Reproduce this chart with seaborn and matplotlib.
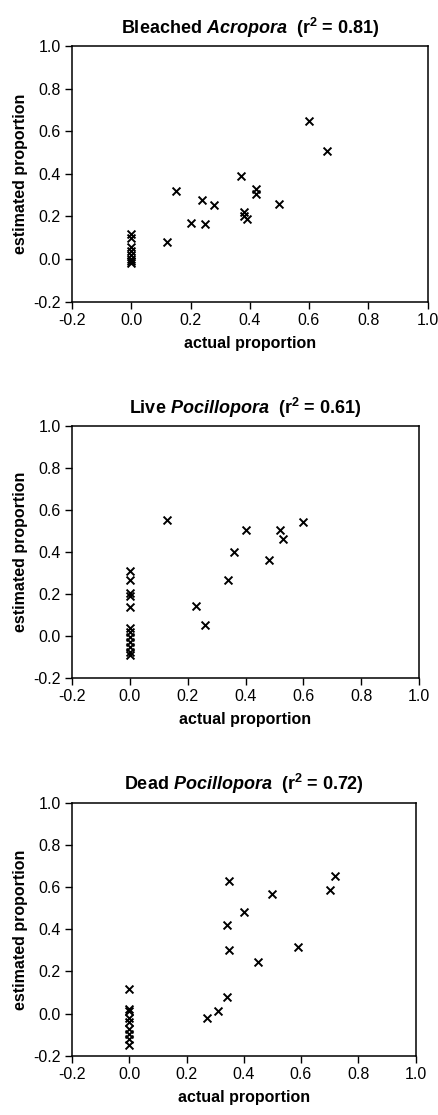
import numpy as np
import pandas as pd
import seaborn as sns
import matplotlib.pyplot as plt

# values
acro_actual = [0.60, 0.66, 0.37, 0.42, 0.42, 0.15, 0.24, 0.28, 0.50, 0.38, 0.38, 0.39, 0.20, 0.25, 0.12,
               0, 0, 0, 0, 0, 0, 0, 0]
acro_est = [0.65, 0.505, 0.39, 0.33, 0.305, 0.32, 0.275, 0.255, 0.26, 0.22, 0.20, 0.19, 0.17, 0.165, 0.08,
            0.12, 0.10, 0.055, 0.04, 0.02, 0.0, -0.01, -0.02]

live_actual = [0.13, 0.40, 0.52, 0.53, 0.60, 0.36, 0.48, 0.34, 0.23, 0.26,
               0, 0, 0, 0, 0, 0, 0, 0, 0, 0, 0, 0]
live_est = [0.55, 0.505, 0.505, 0.462, 0.54, 0.40, 0.362, 0.266, 0.143, 0.049,
            0.309, 0.266, 0.206, 0.188, 0.139, 0.035, 0.02, -0.008, -0.03, -0.053, -0.076, -0.092]

dead_actual = [0.72, 0.70, 0.35, 0.50, 0.40, 0.34, 0.35, 0.59, 0.45, 0.34, 0.31, 0.27,
               0, 0, 0, 0, 0, 0, 0, 0, 0]
dead_est = [0.652, 0.589, 0.631, 0.568, 0.483, 0.421, 0.302, 0.316, 0.247, 0.078, 0.013, -0.019,
            0.117, 0.022, 0.01, -0.022, -0.04, -0.073, -0.095, -0.122, -0.15]

titles = [r"Bleached $\mathit{Acropora}$  (r$^{\mathrm{2}}$ = 0.81)",
          r"Live $\mathit{Pocillopora}$  (r$^{\mathrm{2}}$ = 0.61)",
          r"Dead $\mathit{Pocillopora}$  (r$^{\mathrm{2}}$ = 0.72)"]
ticks = [-0.2, 0.0, 0.2, 0.4, 0.6, 0.8, 1.0]

sns.set_style("white")
plt.rcParams['font.family'] = ['Liberation Sans', 'DejaVu Sans']
plt.rcParams['text.color'] = 'black'
plt.rcParams['axes.labelcolor'] = 'black'
plt.rcParams['mathtext.fontset'] = 'custom'
plt.rcParams['mathtext.it'] = 'Liberation Sans:italic:bold'
plt.rcParams['mathtext.rm'] = 'Liberation Sans:bold'
plt.rcParams['mathtext.bf'] = 'Liberation Sans:bold'

fig = plt.figure(figsize=(4.38, 11.15), dpi=100)
W, H = 438, 1115
# axes boxes in pixels: left, top, right, bottom
boxes = [(72, 46, 427.5, 301.7), (72, 426, 419, 677.7), (72, 803, 415.5, 1055.7)]
panels = [(acro_actual, acro_est), (live_actual, live_est), (dead_actual, dead_est)]

for (l, t, r, b), (xs, ys), title in zip(boxes, panels, titles):
    ax = fig.add_axes([l / W, 1 - b / H, (r - l) / W, (b - t) / H])
    df = pd.DataFrame({'actual': xs, 'estimated': ys})
    sns.scatterplot(data=df, x='actual', y='estimated', marker='x', color='black',
                    s=32, linewidth=1.4, ax=ax)
    ax.set_xlim(-0.2, 1.0)
    ax.set_ylim(-0.2, 1.0)
    ax.set_xticks(ticks)
    ax.set_yticks(ticks)
    ax.set_xticklabels([f"{v:.1f}" for v in ticks])
    ax.set_yticklabels([f"{v:.1f}" for v in ticks])
    ax.tick_params(direction='out', length=5, width=1, labelsize=11.5, colors='black',
                   top=False, right=False, bottom=True, left=True, pad=3)
    for sp in ax.spines.values():
        sp.set_color('black')
        sp.set_linewidth(1.1)
    ax.set_xlabel('actual proportion', fontsize=11.5, fontweight='bold', labelpad=6, color='black')
    ax.set_ylabel('estimated proportion', fontsize=11.5, fontweight='bold', labelpad=4, color='black')
    ax.set_title(title, fontsize=13, fontweight='bold', pad=9, color='black')

fig.savefig('out.png', dpi=100)
